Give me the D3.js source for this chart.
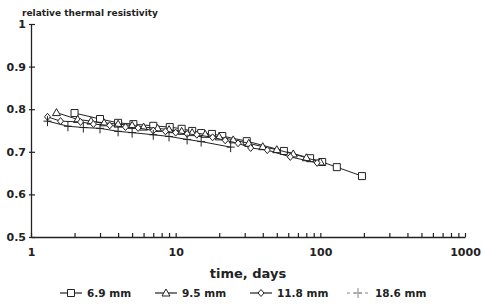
<!DOCTYPE html>
<html>
<head>
<meta charset="utf-8">
<script src="https://cdn.jsdelivr.net/npm/d3@7"></script>
<style>
  body { margin: 0; background: #fff; }
  svg { font-family: "DejaVu Sans", sans-serif; font-weight: bold; }
</style>
</head>
<body>
<svg width="483" height="308"></svg>
<script>
var days69 = [2, 3, 4, 5.1, 7, 9.1, 11, 13, 15, 17.8, 21, 31, 56, 85, 103, 130, 194];
var vals69 = [0.791, 0.777, 0.768, 0.765, 0.761, 0.758, 0.754, 0.749, 0.744, 0.742, 0.737, 0.725, 0.702, 0.685, 0.676, 0.664, 0.643];

var days95 = [1.5, 2.1, 2.6, 3.2, 4, 5, 6, 7.5, 9, 11, 13, 16, 20, 25, 32, 40, 50, 65, 80, 100];
var vals95 = [0.792, 0.776, 0.772, 0.768, 0.765, 0.762, 0.758, 0.755, 0.752, 0.748, 0.745, 0.741, 0.735, 0.728, 0.72, 0.712, 0.705, 0.695, 0.686, 0.676];

var days118 = [1.3, 1.6, 2.2, 2.7, 3.5, 4.5, 5.5, 7, 8.5, 10, 12, 14, 18, 22, 27, 33, 43, 62, 95];
var vals118 = [0.782, 0.772, 0.77, 0.765, 0.762, 0.758, 0.756, 0.75, 0.748, 0.745, 0.742, 0.74, 0.734, 0.727, 0.72, 0.709, 0.704, 0.688, 0.674];

var days186 = [1.3, 1.8, 2.3, 3, 4, 5, 7, 9, 12, 15, 24];
var vals186 = [0.772, 0.76, 0.757, 0.755, 0.748, 0.745, 0.74, 0.736, 0.729, 0.724, 0.711];

var seriesNames = ["6.9 mm", "9.5 mm", "11.8 mm", "18.6 mm"];
var yTicks = [0.5, 0.6, 0.7, 0.8, 0.9, 1];
var xLabels = [1, 10, 100, 1000];

function zip(ds, vs) { return ds.map((d, i) => ({day: d, val: vs[i]})); }
var series = [
  {name: seriesNames[0], sym: "square", pts: zip(days69, vals69)},
  {name: seriesNames[1], sym: "triangle", pts: zip(days95, vals95)},
  {name: seriesNames[2], sym: "diamond", pts: zip(days118, vals118)},
  {name: seriesNames[3], sym: "plus", pts: zip(days186, vals186)}
];

var svg = d3.select("svg");
var xScale = d3.scaleLog().domain([1, 1000]).range([31, 465]);
var yScale = d3.scaleLinear().domain([0.5, 1]).range([237, 24]);

// x ticks: every integer multiple per decade
var xTickVals = [];
[1, 10, 100].forEach(p => { for (var k = 1; k < 10; k++) xTickVals.push(p * k); });
xTickVals.push(1000);

var xAxis = d3.axisBottom(xScale)
  .tickValues(xTickVals)
  .tickSize(-4)
  .tickSizeOuter(0)
  .tickPadding(11)
  .tickFormat(d => xLabels.indexOf(d) >= 0 ? d : "");
var xg = svg.append("g").attr("transform", "translate(0,237)").call(xAxis);

var yAxis = d3.axisLeft(yScale)
  .tickValues(yTicks)
  .tickSize(-4)
  .tickSizeOuter(0)
  .tickPadding(5)
  .tickFormat(d => d == 1 ? "1" : d3.format(".1f")(d));
var yg = svg.append("g").attr("transform", "translate(31,0)").call(yAxis);
yg.selectAll(".tick line").attr("x1", -2);

svg.selectAll(".domain").attr("stroke", "#222").attr("stroke-width", 1.3);
svg.selectAll(".tick line").attr("stroke", "#222").attr("stroke-width", 1.2);
svg.selectAll(".tick text").attr("fill", "#222")
  .style("font-size", "11px").style("font-weight", "bold")
  .style("font-family", "'DejaVu Sans', sans-serif");

svg.append("text").attr("x", 22).attr("y", 16)
  .style("font-size", "9px").attr("fill", "#222")
  .text("relative thermal resistivity");

svg.append("text").attr("x", 248).attr("y", 278)
  .attr("text-anchor", "middle")
  .style("font-size", "13px").attr("fill", "#222")
  .text("time, days");

function symbolPath(sym) {
  if (sym == "square") return "M-3.5,-3.5h7v7h-7z";
  if (sym == "triangle") return "M0,-4L4,3H-4z";
  if (sym == "diamond") return "M0,-3.5L3,0L0,3.5L-3,0z";
  return "M-4,0H4M0,-5V5";
}

var line = d3.line().x(d => xScale(d.day)).y(d => yScale(d.val));

series.forEach(s => {
  svg.append("path").datum(s.pts)
    .attr("d", line)
    .attr("fill", "none")
    .attr("stroke", "#222")
    .attr("stroke-width", 1);
  svg.selectAll("path.m-" + s.sym).data(s.pts).enter().append("path")
    .attr("class", "m-" + s.sym)
    .attr("d", symbolPath(s.sym))
    .attr("transform", d => `translate(${xScale(d.day)},${yScale(d.val)})`)
    .attr("fill", s.sym == "plus" ? "none" : "#fff")
    .attr("stroke", "#222")
    .attr("stroke-width", 1);
});

// legend
var legendX = [60, 155, 250, 347];
var legend = svg.selectAll("g.legend").data(series).enter().append("g")
  .attr("class", "legend")
  .attr("transform", (d, i) => `translate(${legendX[i]},293)`);
legend.append("line")
  .attr("x1", 0).attr("x2", 22)
  .attr("stroke", (d, i) => i == 3 ? "#888" : "#222")
  .attr("stroke-dasharray", (d, i) => i == 3 ? "3,3" : null)
  .attr("stroke-width", 1.2);
legend.append("path")
  .attr("d", d => symbolPath(d.sym))
  .attr("transform", "translate(11,0)")
  .attr("fill", d => d.sym == "plus" ? "none" : "#fff")
  .attr("stroke", (d, i) => i == 3 ? "#888" : "#222");
legend.append("text")
  .attr("x", (d, i) => i == 3 ? 28 : 27).attr("y", 4)
  .style("font-size", "10.5px").attr("fill", "#222")
  .text(d => d.name);
</script>
</body>
</html>
